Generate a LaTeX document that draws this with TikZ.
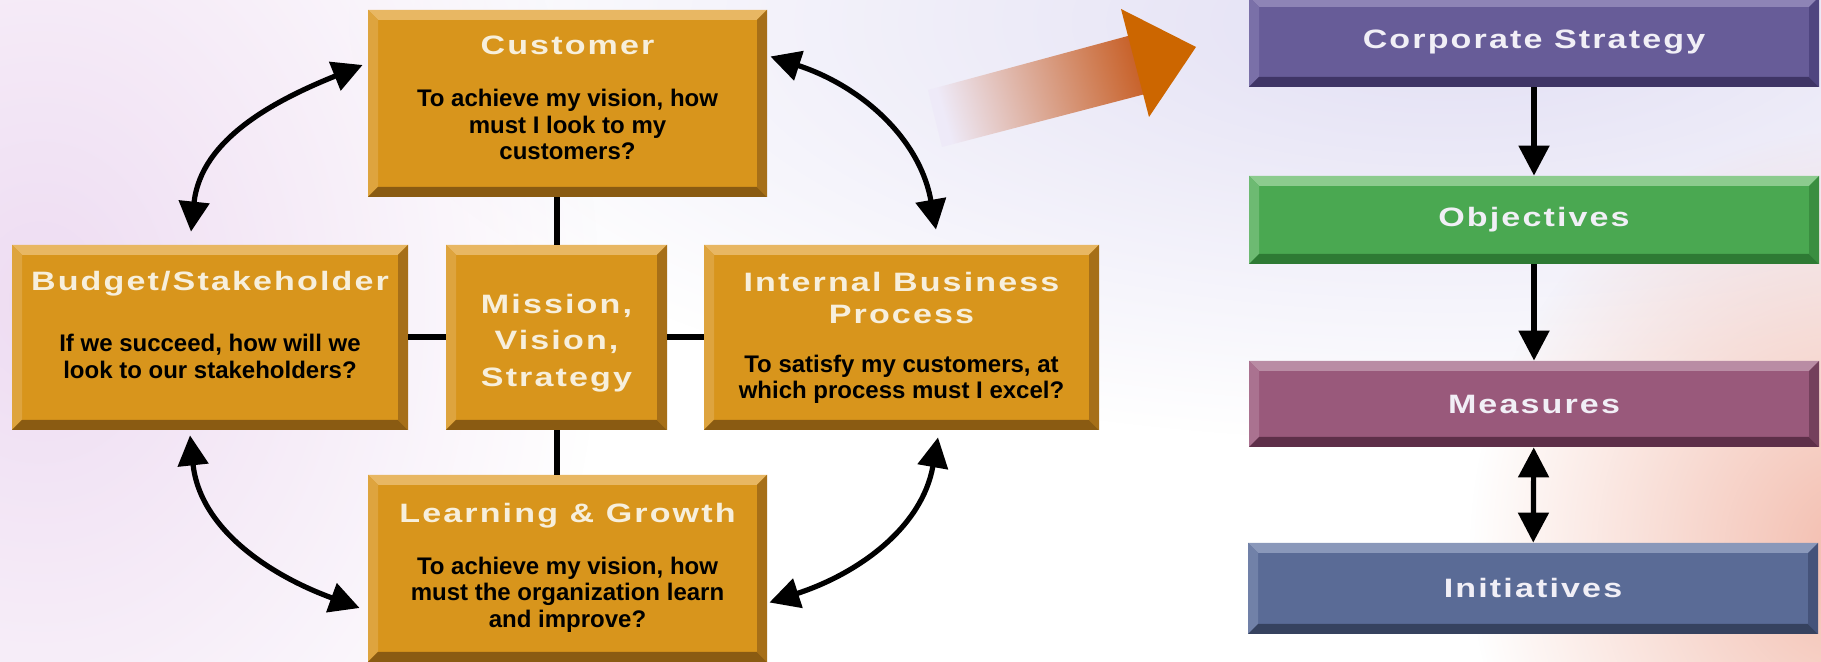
\documentclass[tikz,border=0pt]{standalone}
\usepackage{fontspec}
\setmainfont{Liberation Sans}
\newfontfamily\capsfont[FakeStretch=1.28, LetterSpace=8]{Liberation Sans}
\usepackage{tikz}
\usetikzlibrary{positioning,arrows.meta,fadings}

\definecolor{amber}      {HTML}{D8951C}
\definecolor{ambertop}   {HTML}{E8B763}
\definecolor{amberleft}  {HTML}{DEA43E}
\definecolor{amberbot}   {HTML}{8A5B12}
\definecolor{amberright} {HTML}{A66F18}
\definecolor{corpfill}   {HTML}{675C98}
\definecolor{corptop}    {HTML}{8E84B6}
\definecolor{corpleft}   {HTML}{7A70A8}
\definecolor{corpbot}    {HTML}{3F3566}
\definecolor{corpright}  {HTML}{4F4580}
\definecolor{objfill}    {HTML}{4AA851}
\definecolor{objtop}     {HTML}{8CCB8E}
\definecolor{objleft}    {HTML}{6DBA72}
\definecolor{objbot}     {HTML}{2E7A34}
\definecolor{objright}   {HTML}{3A8E40}
\definecolor{measfill}   {HTML}{99597B}
\definecolor{meastop}    {HTML}{B98CA4}
\definecolor{measleft}   {HTML}{AA7290}
\definecolor{measbot}    {HTML}{5E2F49}
\definecolor{measright}  {HTML}{74405C}
\definecolor{initfill}   {HTML}{5A6B96}
\definecolor{inittop}    {HTML}{8A98BA}
\definecolor{initleft}   {HTML}{7181A8}
\definecolor{initbot}    {HTML}{36425F}
\definecolor{initright}  {HTML}{45537A}
\definecolor{cream}      {HTML}{F7EFDC}
\definecolor{snow}       {HTML}{F1EFF6}
\definecolor{haze}       {HTML}{E2DFF4}
\definecolor{lilac}      {HTML}{EEDCF2}
\definecolor{warm}       {HTML}{F3BDAE}
\definecolor{mist}       {HTML}{EEEAF8}
\definecolor{rust}       {HTML}{C8622A}
\definecolor{rusthead}   {HTML}{CC6600}

\tikzfading[name=softblob, inner color=transparent!0, outer color=transparent!100]

\newcommand{\boxtitle}[1]{{\capsfont\bfseries\fontsize{13.3pt}{16pt}\selectfont\color{cream}#1}}

\tikzset{
  >={Triangle[length=15pt,width=15pt]},
  % --- boxes with a bevelled rim
  bevel/.style n args={5}{draw=none, fill=#1, inner sep=0pt, align=center,
    path picture={
      \path (path picture bounding box.south west) coordinate (sw)
            (path picture bounding box.north east) coordinate (ne)
            (sw |- ne) coordinate (nw) (sw -| ne) coordinate (se);
      \fill[#2] (nw) -- (ne) -- ([shift={(-5pt,-5pt)}]ne) -- ([shift={(5pt,-5pt)}]nw) -- cycle;
      \fill[#3] (sw) -- (nw) -- ([shift={(5pt,-5pt)}]nw) -- ([shift={(5pt,5pt)}]sw) -- cycle;
      \fill[#4] (sw) -- (se) -- ([shift={(-5pt,5pt)}]se) -- ([shift={(5pt,5pt)}]sw) -- cycle;
      \fill[#5] (se) -- (ne) -- ([shift={(-5pt,-5pt)}]ne) -- ([shift={(-5pt,5pt)}]se) -- cycle;
    }},
  body/.style  = {font=\bfseries\fontsize{12pt}{13.3pt}\selectfont},
  amberbox/.style = {bevel={amber}{ambertop}{amberleft}{amberbot}{amberright}, body},
  bar/.style   = {font=\capsfont\bfseries\fontsize{13.3pt}{16pt}\selectfont,
                  minimum width=285pt},
  corpbox/.style = {bar, bevel={corpfill}{corptop}{corpleft}{corpbot}{corpright}, text=snow},
  objbox/.style  = {bar, bevel={objfill}{objtop}{objleft}{objbot}{objright}, text=snow},
  measbox/.style = {bar, bevel={measfill}{meastop}{measleft}{measbot}{measright}, text=snow},
  initbox/.style = {bar, bevel={initfill}{inittop}{initleft}{initbot}{initright}, text=snow},
  % --- edges
  link/.style     = {line width=3pt, draw=black},
  cycarrow/.style = {<->, line width=2.6pt, draw=black},
  flow/.style     = {->, line width=2.6pt, draw=black},
}

\begin{document}
\begin{tikzpicture}[x=0.5pt, y=0.5pt]
  \path[use as bounding box] (0,0) rectangle (1821,662);
  \clip (0,0) rectangle (1821,662);

  % backdrop
  \fill[white] (0,0) rectangle (1821,662);
  \fill[haze, path fading=softblob] (1450,640) ellipse (1100 and 420);
  \fill[lilac, path fading=softblob] (40,360) ellipse (560 and 700);
  \fill[warm, path fading=softblob] (1850,110) ellipse (380 and 420);

  % scorecard perspectives
  \node[amberbox, minimum width=199.5pt, minimum height=93.5pt, text depth=5.7pt] (cust) at (567.5,558.5)
    {\boxtitle{Customer}\\[12.7pt]To achieve my vision, how\\must I look to my\\customers?};
  \node[amberbox, minimum width=198pt, minimum height=92.5pt, text depth=12.8pt] (budget) at (210,324.5)
    {\boxtitle{Budget/Stakeholder}\\[17.4pt]If we succeed, how will we\\look to our stakeholders?};
  \node[amberbox, minimum width=110.5pt, minimum height=92.5pt, text=cream, text height=49pt, text depth=0pt,
        font=\capsfont\bfseries\fontsize{13.3pt}{18.25pt}\selectfont] (mission) at (556.5,324.5)
    {Mission,\\Vision,\\Strategy};
  \node[amberbox, minimum width=197.5pt, minimum height=92.5pt, text depth=2pt] (internal) at (901.5,324.5)
    {\boxtitle{Internal Business}\\[2.7pt]\boxtitle{Process}\\[11pt]To satisfy my customers, at\\which process must I excel?};
  \node[amberbox, minimum width=199.5pt, minimum height=93.5pt, text depth=3.5pt] (learn) at (567.5,93.5)
    {\boxtitle{Learning \& Growth}\\[12.7pt]To achieve my vision, how\\must the organization learn\\and improve?};

  \draw[link] (cust.south -| mission.north) -- (mission.north);
  \draw[link] (budget) -- (mission);
  \draw[link] (mission) -- (internal);
  \draw[link] (mission.south) -- (mission.south |- learn.north);

  \draw[cycarrow] ([shift={(-5,38.5)}]cust.west) to[out=202,in=84] ([shift={(-19,13)}]budget.north);
  \draw[cycarrow] ([shift={(3,47)}]cust.east) to[out=-18,in=100] ([shift={(34.5,15)}]internal.north);
  \draw[cycarrow] ([shift={(-20,-5)}]budget.south) to[out=-84,in=160] ([shift={(-8,-39.5)}]learn.west);
  \draw[cycarrow] ([shift={(36.5,-7)}]internal.south) to[out=260,in=18] ([shift={(2,-34)}]learn.east);

  % hand-off arrow
  \shade[left color=mist, right color=rust, shading angle=105.6]
    (928,572) -- (1139,629) -- (1153,570) -- (942,515) -- cycle;
  \fill[rusthead] (1121,653) -- (1196,615) -- (1149,545) -- cycle;

  % cascade
  \node[corpbox, minimum height=45pt]   (corp) at (1534,620) {Corporate Strategy};
  \node[objbox,  minimum height=44pt]   (obj)  at (1534,442) {Objectives};
  \node[measbox, minimum height=43pt]   (meas) at (1534,258) {Measures};
  \node[initbox, minimum height=45.5pt] (init) at (1533,73.5) {Initiatives};

  \draw[flow] (corp) -- (obj);
  \draw[flow] (obj) -- (meas);
  \draw[flow, <->] (meas) -- (init);
\end{tikzpicture}
\end{document}
